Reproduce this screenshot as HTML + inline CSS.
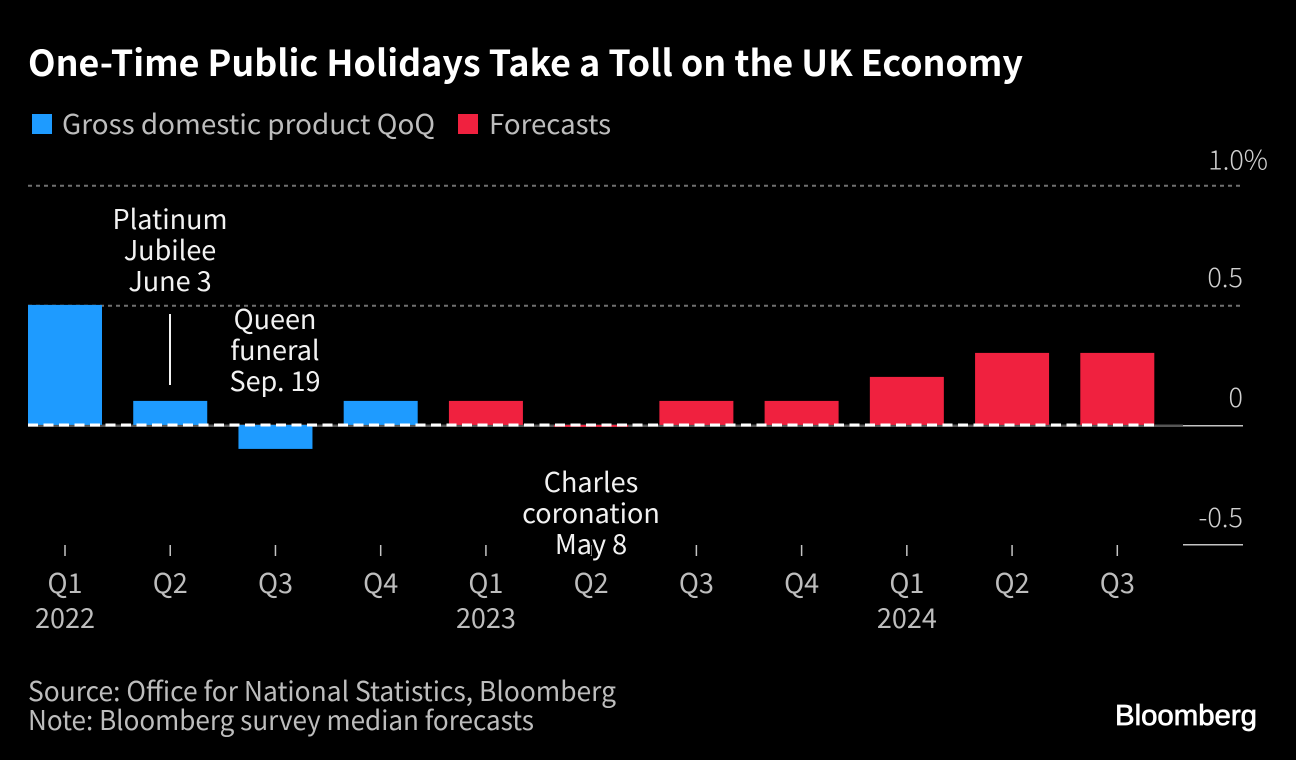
<!DOCTYPE html>
<html lang="en">
<head>
<meta charset="utf-8">
<title>One-Time Public Holidays Take a Toll on the UK Economy</title>
<style>
html,body{margin:0;padding:0;background:#000;width:1296px;height:760px;overflow:hidden}
svg{display:block}
text{font-family:"Noto Sans CJK SC","Liberation Sans",sans-serif}
.lab{font-size:27px;fill:#bdbdbd;font-weight:400}
.tick{font-size:27px;fill:#d0d0d0;font-weight:300}
.ann{font-size:27px;fill:#f2f2f2;font-weight:400;text-anchor:middle;stroke:#000;stroke-width:3px;paint-order:stroke}
</style>
</head>
<body>
<svg id="chart" xmlns="http://www.w3.org/2000/svg" width="1296" height="760" viewBox="0 0 1296 760">
  <rect x="0" y="0" width="1296" height="760" fill="#000"/>
  <text x="28" y="76" font-size="36" font-weight="700" fill="#fff" textLength="995" lengthAdjust="spacingAndGlyphs">One-Time Public Holidays Take a Toll on the UK Economy</text>
  <rect x="32" y="114" width="20" height="20" fill="#1e9bff"/>
  <text class="lab" x="62" y="134" textLength="373" lengthAdjust="spacingAndGlyphs">Gross domestic product QoQ</text>
  <rect x="458" y="114" width="20" height="20" fill="#f0213f"/>
  <text class="lab" x="489" y="134" textLength="122" lengthAdjust="spacingAndGlyphs">Forecasts</text>
  <g id="grid"></g>
  <g id="base"></g>
  <g id="bars"></g>
  <g id="zero"></g>
  <g id="xaxis"></g>
  <line x1="170" y1="314" x2="170" y2="385" stroke="#f2f2f2" stroke-width="2"/>
  <g>
    <text class="ann" x="170" y="229">Platinum</text>
    <text class="ann" x="170" y="260">Jubilee</text>
    <text class="ann" x="170" y="291">June 3</text>
  </g>
  <g>
    <text class="ann" x="275" y="329">Queen</text>
    <text class="ann" x="275" y="360">funeral</text>
    <text class="ann" x="275" y="391">Sep. 19</text>
  </g>
  <g>
    <text class="ann" x="591" y="492">Charles</text>
    <text class="ann" x="591" y="523">coronation</text>
    <text class="ann" x="591" y="554">May 8</text>
  </g>
  <text class="lab" x="28" y="701" textLength="588" lengthAdjust="spacingAndGlyphs">Source: Office for National Statistics, Bloomberg</text>
  <text class="lab" x="28" y="730" textLength="506" lengthAdjust="spacingAndGlyphs">Note: Bloomberg survey median forecasts</text>
  <text x="1115" y="725" font-size="29" font-weight="400" fill="#fff" stroke="#fff" stroke-width="0.7" style="font-family:'Liberation Sans',sans-serif" textLength="142" lengthAdjust="spacingAndGlyphs">Bloomberg</text>
</svg>
<script>
const quarters = ['Q1','Q2','Q3','Q4','Q1','Q2','Q3','Q4','Q1','Q2','Q3'];
const years = ['2022','','','','2023','','','','2024','',''];
const gdpValues = [0.5,0.1,-0.1,0.1,null,null,null,null,null,null,null];
const forecastValues = [null,null,null,null,0.1,-0.008,0.1,0.1,0.2,0.3,0.3];
const yTicks = [1,0.5,0,-0.5];
const yTickLabels = ['1.0%','0.5','0','-0.5'];

const NS = 'http://www.w3.org/2000/svg';
const yScale = v => 425.7 - v * 240;
const barBase = -0.8;
const xScale = i => 65 + i * 105.23;
const BAR_W = 74;
function mk(parent, tag, attrs, txt) {
  const el = document.createElementNS(NS, tag);
  for (const k in attrs) el.setAttribute(k, attrs[k]);
  if (txt !== undefined) el.textContent = txt;
  parent.appendChild(el);
  return el;
}
const grid = document.getElementById('grid');
yTicks.forEach((t, i) => {
  const y = yScale(t);
  const label = mk(grid, 'text', {x: 1243, y: y - (t === 1 ? 16 : 18.5), class: 'tick', 'text-anchor': 'end'}, yTickLabels[i]);
  
  
  if (t === 1) {
    label.setAttribute('x', 1268);
  }
  if (t > 0) {
    const line = mk(grid, 'line', {x1: 28, x2: 1243, y1: y, y2: y, stroke: '#707070', 'stroke-width': 2, 'stroke-dasharray': '4 4'});
    
    
  } else {
    const lineY = t < 0 ? y - 1 : y;
    const line = mk(grid, 'line', {x1: 1183, x2: 1243, y1: lineY, y2: lineY, stroke: '#c4c4c4', 'stroke-width': 1.5});
    
    
  }
});
const y0 = yScale(0);
const baseLine = mk(document.getElementById('base'), 'line', {x1: 28, x2: 1183, y1: y0, y2: y0, stroke: '#555', 'stroke-width': 2.5});


const bars = document.getElementById('bars');
function drawBars(values, color, name) {
  values.forEach((v, i) => {
    if (v === null) return;
    const b0 = yScale(0) + barBase, b1 = yScale(v) + barBase;
    const r = mk(bars, 'rect', {x: xScale(i) - BAR_W / 2, y: Math.min(b0, b1), width: BAR_W, height: Math.abs(b1 - b0), fill: color});
    
    
  });
}
drawBars(gdpValues, '#1e9bff', 'gdp-bar');
drawBars(forecastValues, '#f0213f', 'forecast-bar');
const zero = document.getElementById('zero');
const dashLine = mk(zero, 'line', {x1: 28, x2: 1154, y1: y0 - 0.7, y2: y0 - 0.7, stroke: '#fff', 'stroke-width': 3, 'stroke-dasharray': '10 5.5'});


const xaxis = document.getElementById('xaxis');
quarters.forEach((q, i) => {
  const x = xScale(i);
  const tick = mk(xaxis, 'line', {x1: x, x2: x, y1: 545, y2: 556, stroke: '#c4c4c4', 'stroke-width': 1.5});
  
  
  const label = mk(xaxis, 'text', {x: x, y: 593, class: 'lab', 'text-anchor': 'middle'}, q);
  
  
  if (years[i]) {
    const yr = mk(xaxis, 'text', {x: x, y: 628, class: 'lab', 'text-anchor': 'middle'}, years[i]);
    
    
  }
});
</script>
</body>
</html>
